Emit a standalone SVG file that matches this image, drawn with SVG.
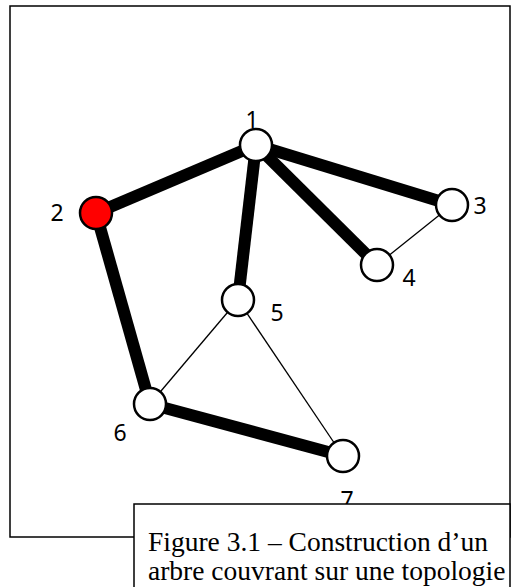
<svg xmlns="http://www.w3.org/2000/svg" width="518" height="587" viewBox="0 0 518 587">
<style>
.frame{fill:none;stroke:#000;stroke-width:1.5}
.thick{stroke:#000;stroke-width:12;stroke-linecap:butt}
.thin{stroke:#000;stroke-width:1.3}
.node{fill:#fff;stroke:#000;stroke-width:2.5}
.lbl{font-family:"Noto Sans","Open Sans",sans-serif;font-size:23px;fill:#000}
.cap{font-family:"Liberation Serif","Times New Roman",serif;font-size:27.5px;fill:#000}
</style>
<rect width="518" height="587" fill="#fff"/>
<rect class="frame" x="10" y="6" width="500" height="531"/>
<g id="connectors">
<line class="thick" x1="256" y1="145" x2="96" y2="213"/>
<line class="thick" x1="256" y1="145" x2="452" y2="205"/>
<line class="thick" x1="256" y1="145" x2="377" y2="265"/>
<line class="thick" x1="256" y1="145" x2="238" y2="300"/>
<line class="thick" x1="96" y1="213" x2="150" y2="404"/>
<line class="thick" x1="150" y1="404" x2="343" y2="456"/>
<line class="thin" x1="452" y1="205" x2="377" y2="265"/>
<line class="thin" x1="238" y1="300" x2="150" y2="404"/>
<line class="thin" x1="238" y1="300" x2="343" y2="456"/>
</g>
<g id="n1"><circle class="node" cx="256" cy="145" r="16"/><text class="lbl" x="252" y="128" text-anchor="middle">1</text></g>
<g id="n2"><circle class="node" cx="96" cy="213" r="16" style="fill:#f00"/><text class="lbl" x="57" y="221" text-anchor="middle">2</text></g>
<g id="n3"><circle class="node" cx="452" cy="205" r="16"/><text class="lbl" x="480" y="214" text-anchor="middle">3</text></g>
<g id="n4"><circle class="node" cx="377" cy="265" r="16"/><text class="lbl" x="409" y="286" text-anchor="middle">4</text></g>
<g id="n5"><circle class="node" cx="238" cy="300" r="16"/><text class="lbl" x="277" y="321" text-anchor="middle">5</text></g>
<g id="n6"><circle class="node" cx="150" cy="404" r="16"/><text class="lbl" x="120" y="441" text-anchor="middle">6</text></g>
<g id="n7"><circle class="node" cx="343" cy="456" r="16"/><text class="lbl" x="347" y="508" text-anchor="middle">7</text></g>
<g id="caption">
<rect x="134" y="504" width="376" height="90" fill="#fff" stroke="#000" stroke-width="1.5"/>
<text class="cap" x="148" y="551">Figure 3.1 – Construction d’un</text>
<text class="cap" x="148" y="580">arbre couvrant sur une topologie</text>
</g>
</svg>
